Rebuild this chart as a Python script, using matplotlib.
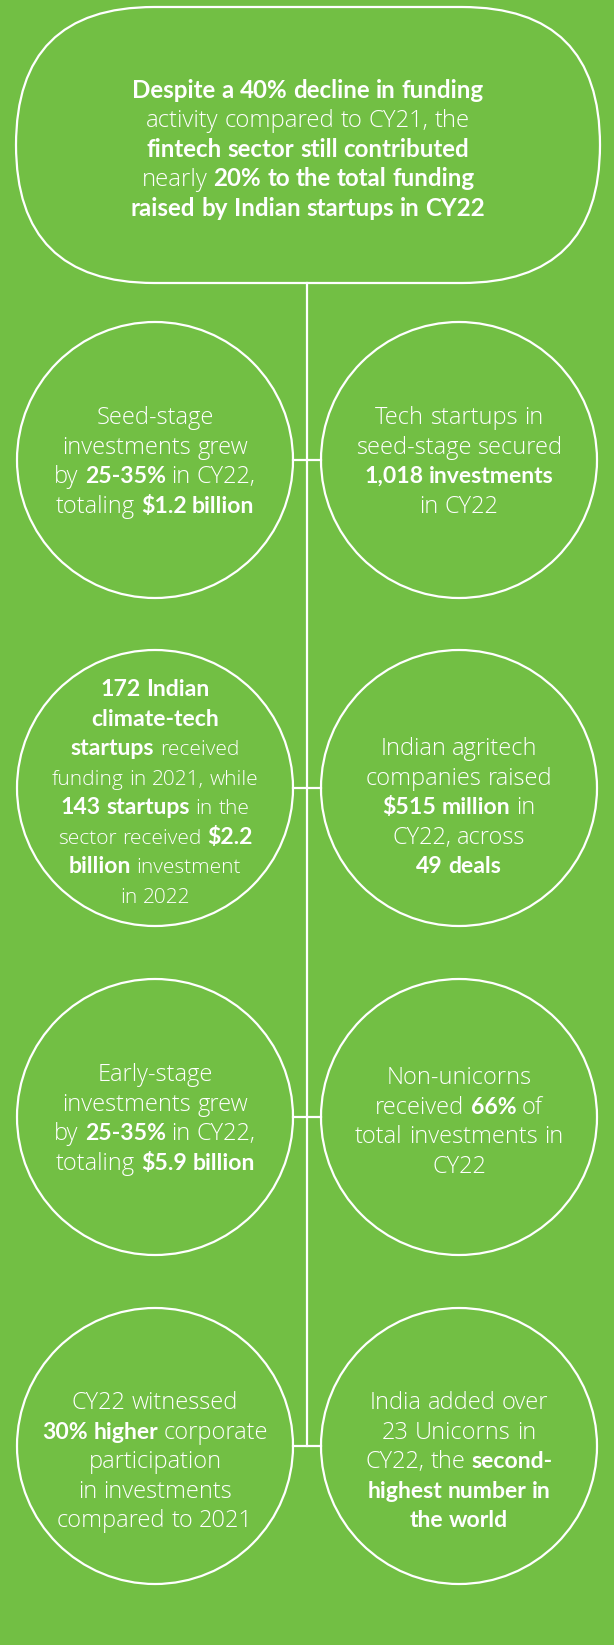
import matplotlib.pyplot as plt
from matplotlib.patches import Circle, FancyBboxPatch

# canvas in pixels
W, H = 614, 1645
GREEN = '#72BF44'
LIGHT = dict(family=['Open Sans', 'DejaVu Sans'], fontweight='light')
BOLD = dict(family=['Lato', 'DejaVu Sans'], fontweight='bold')

# text content, **...** marks bold words
pill_lines = [
    "**Despite a 40% decline in funding**",
    "activity compared to CY21, the",
    "**fintech sector still contributed**",
    "nearly **20% to the total funding**",
    "**raised by Indian startups in CY22**",
]

left_texts = [
    ["Seed-stage", "investments grew", "by **25-35%** in CY22,", "totaling **$1.2 billion**"],
    ["**172 Indian**", "**climate-tech**", "**startups** received", "funding in 2021, while",
     "**143 startups** in the", "sector received **$2.2**", "**billion** investment", "in 2022"],
    ["Early-stage", "investments grew", "by **25-35%** in CY22,", "totaling **$5.9 billion**"],
    ["CY22 witnessed", "**30% higher** corporate", "participation", "in investments",
     "compared to 2021"],
]

right_texts = [
    ["Tech startups in", "seed-stage secured", "**1,018 investments**", "in CY22"],
    ["Indian agritech", "companies raised", "**$515 million** in", "CY22, across", "**49 deals**"],
    ["Non-unicorns", "received **66%** of", "total investments in", "CY22"],
    ["India added over", "23 Unicorns in", "CY22, the **second-**", "**highest number in**",
     "**the world**"],
]

# layout
pill_box = (16, 7, 584, 276)
row_y = [460, 788, 1117, 1446]
left_x, right_x, radius = 155, 459, 138
spine_x = 307
left_shift = [0, 3, 0, 14]
right_shift = [0, 18, 3, 14]
# (light size, bold size) in points
pill_size = (17.2, 17.4)
left_size = [(17, 16.6), (15, 16.6), (17, 16.6), (17, 16.6)]
right_size = [(17, 16.6), (17, 16.6), (17, 16.6), (17, 16.6)]
line_step = 29.5

fig = plt.figure(figsize=(W / 100, H / 100), dpi=100)
fig.patch.set_facecolor(GREEN)
ax = fig.add_axes([0, 0, 1, 1])
ax.set_xlim(0, W)
ax.set_ylim(H, 0)
ax.axis('off')
renderer = fig.canvas.get_renderer()


def style(bold, sizes):
    if bold:
        return dict(fontsize=sizes[1], **BOLD)
    return dict(fontsize=sizes[0], **LIGHT)


def width_of(s, bold, sizes):
    t = ax.text(0, 0, s, **style(bold, sizes))
    w = t.get_window_extent(renderer).width
    t.remove()
    return w


def parse(line):
    words = []
    for i, chunk in enumerate(line.split('**')):
        for w in chunk.split():
            words.append((w, i % 2 == 1))
    return words


def draw_block(cx, cy, lines, sizes):
    px = sizes[1] * 100 / 72
    top = cy - (len(lines) - 1) / 2 * line_step
    space = {b: width_of('a a', b, sizes) - width_of('aa', b, sizes) for b in (False, True)}
    for i, line in enumerate(lines):
        words = parse(line)
        widths = [width_of(w, b, sizes) for w, b in words]
        total = sum(widths) + sum(space[b] for w, b in words[:-1])
        x = cx - total / 2
        base = top + i * line_step + 0.36 * px
        for (w, b), wd in zip(words, widths):
            ax.text(x, base, w, color='white', ha='left', va='baseline', **style(b, sizes))
            x += wd + space[b]


# shapes
x0, y0, bw, bh = pill_box
ax.add_patch(FancyBboxPatch((x0, y0), bw, bh, boxstyle=f"round,pad=0,rounding_size={bh / 2}",
                            facecolor='none', edgecolor='white', lw=1.6))
ax.plot([spine_x, spine_x], [y0 + bh, row_y[-1]], color='white', lw=1.6)
for y in row_y:
    ax.add_patch(Circle((left_x, y), radius, facecolor='none', edgecolor='white', lw=1.6))
    ax.add_patch(Circle((right_x, y), radius, facecolor='none', edgecolor='white', lw=1.6))
    ax.plot([left_x + radius, right_x - radius], [y, y], color='white', lw=1.6)

draw_block(x0 + bw / 2, y0 + bh / 2 + 3, pill_lines, pill_size)
for i, y in enumerate(row_y):
    draw_block(left_x, y + left_shift[i], left_texts[i], left_size[i])
    draw_block(right_x, y + right_shift[i], right_texts[i], right_size[i])

fig.savefig('out.png', dpi=100, facecolor=GREEN)
